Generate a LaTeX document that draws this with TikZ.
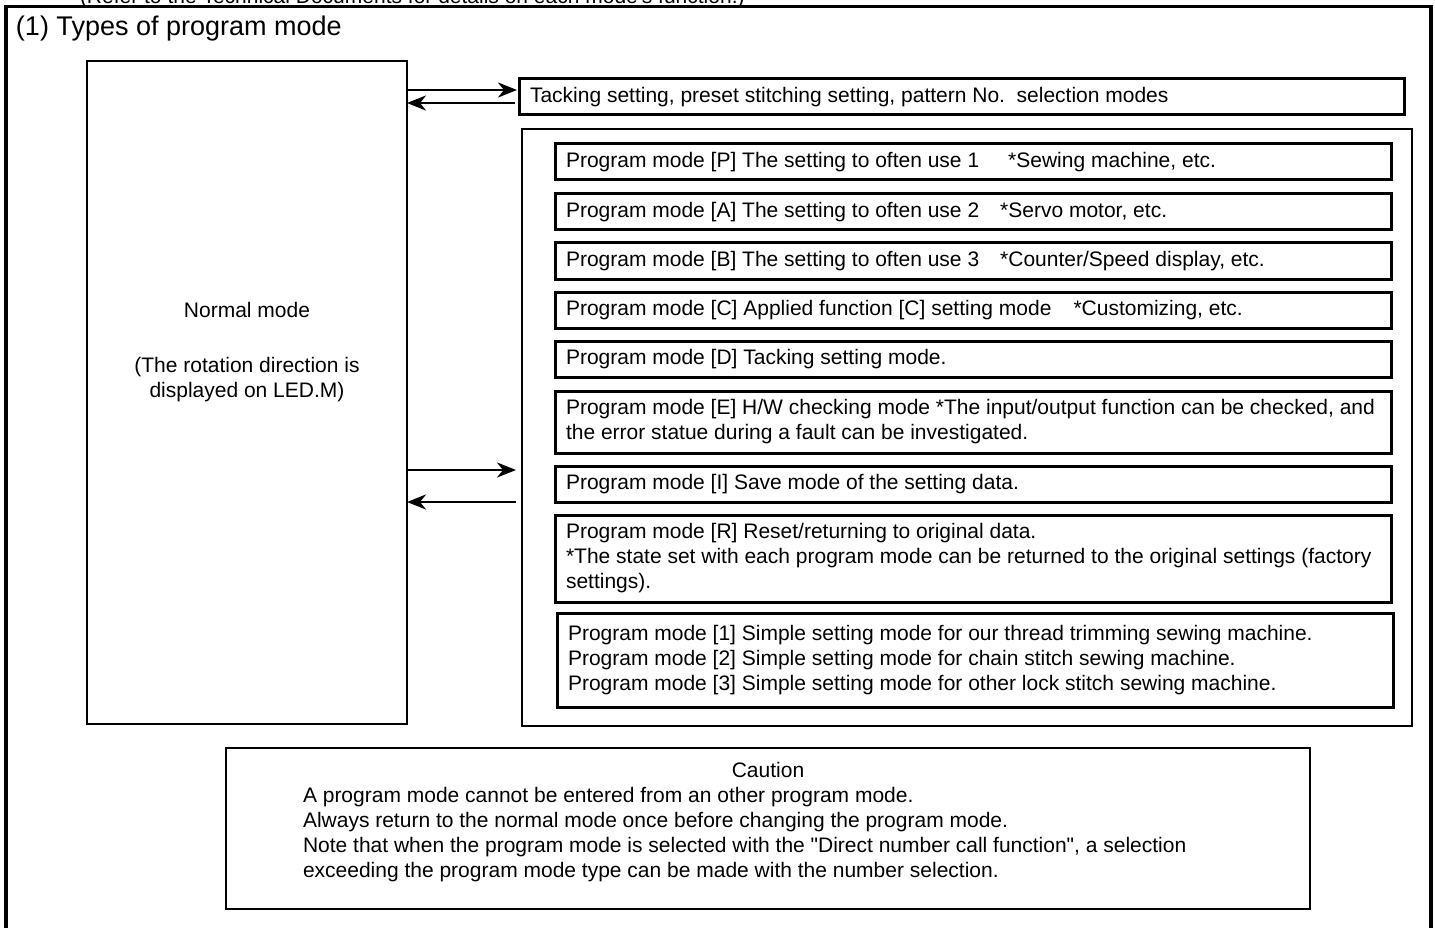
\documentclass[tikz,border=0pt]{standalone}
\usepackage{fontspec}
\setmainfont{Liberation Sans}
\usetikzlibrary{arrows.meta}
\begin{document}
\begin{tikzpicture}[x=1pt,y=-1pt,
  every node/.style={font=\fontsize{21}{25}\selectfont, inner sep=0pt, outer sep=0pt},
  frameline/.style={line width=3.5pt},
  modebox/.style={draw, line width=3pt, anchor=north west, minimum width=836pt, minimum height=36pt},
  modetext/.style={anchor=west, align=left},
  arr/.style={line width=2.6pt, -{Stealth[length=19pt,width=15pt,inset=6pt]}},
]
\useasboundingbox (0,0) rectangle (1435,928);
\clip (0,0) rectangle (1435,928);

% header line and page frame
\node[anchor=base west] (refnote) at (80,4) {(Refer to the Technical Documents for details on each mode\textquotesingle s function.)};
\draw[frameline] (6,940) -- (6,6.5) -- (1431,6.5) -- (1431,940);
\node[anchor=base west, font=\fontsize{27}{31}\selectfont] (title) at (16,36) {(1) Types of program mode};

% normal mode
\node[draw, line width=2.6pt, anchor=north west, minimum width=320pt, minimum height=663pt] (normal) at (87,61) {};
\node (nmtitle) at (247,310) {Normal mode};
\node[align=center] (nmnote) at (247,380) {(The rotation direction is\\displayed on LED.M)};

% tacking / preset / pattern selection
\node[draw, line width=3pt, anchor=north west, minimum width=885pt, minimum height=36pt] (tack) at (519,79) {};
\node[modetext] (tacktext) at ([xshift=11pt]tack.west) {Tacking setting, preset stitching setting, pattern No.\ \ selection modes};

% program modes
\node[draw, line width=2.3pt, anchor=north west, minimum width=890pt, minimum height=597pt] (cont) at (522,129) {};

\node[modebox] (mP) at (555,144) {};
\node[modetext] (tP) at ([xshift=11pt]mP.west) {Program mode [P] The setting to often use 1\hspace{29pt}*Sewing machine, etc.};
\node[modebox] (mA) at (555,194) {};
\node[modetext] (tA) at ([xshift=11pt]mA.west) {Program mode [A] The setting to often use 2\hspace{21pt}*Servo motor, etc.};
\node[modebox] (mB) at (555,243) {};
\node[modetext] (tB) at ([xshift=11pt]mB.west) {Program mode [B] The setting to often use 3\hspace{21pt}*Counter/Speed display, etc.};
\node[modebox] (mC) at (555,292) {};
\node[modetext] (tC) at ([xshift=11pt]mC.west) {Program mode [C] Applied function [C] setting mode\hspace{22pt}*Customizing, etc.};
\node[modebox] (mD) at (555,341) {};
\node[modetext] (tD) at ([xshift=11pt]mD.west) {Program mode [D] Tacking setting mode.};
\node[modebox, minimum height=62pt] (mE) at (555,391) {};
\node[modetext] (tE) at ([xshift=11pt]mE.west) {Program mode [E] H/W checking mode *The input/output function can be checked, and\\{}the error statue during a fault can be investigated.};
\node[modebox] (mI) at (555,466) {};
\node[modetext] (tI) at ([xshift=11pt]mI.west) {Program mode [I] Save mode of the setting data.};
\node[modebox, minimum height=87pt] (mR) at (555,515) {};
\node[modetext] (tR) at ([xshift=11pt]mR.west) {Program mode [R] Reset/returning to original data.\\{}*The state set with each program mode can be returned to the original settings (factory\\{}settings).};
\node[modebox, minimum height=94pt] (mS) at (557,613) {};
\node[modetext] (tS) at ([xshift=11pt]mS.west) {Program mode [1] Simple setting mode for our thread trimming sewing machine.\\{}Program mode [2] Simple setting mode for chain stitch sewing machine.\\{}Program mode [3] Simple setting mode for other lock stitch sewing machine.};

% mode transitions
\draw[arr, shorten >=2pt] (normal.east |- 0,90) -- (tack.west |- 0,90);
\draw[arr, shorten <=4pt] (tack.west |- 0,103) -- (normal.east |- 0,103);
\draw[arr, shorten >=6pt] (normal.east |- 0,470) -- (cont.west |- 0,470);
\draw[arr, shorten <=6pt] (cont.west |- 0,502) -- (normal.east |- 0,502);

% caution
\node[draw, line width=2.3pt, anchor=north west, minimum width=1084pt, minimum height=161pt] (caution) at (226,748) {};
\node (cautiontitle) at (768,770) {Caution};
\node[modetext] (cautiontext) at (303,834.5) {A program mode cannot be entered from an other program mode.\\{}Always return to the normal mode once before changing the program mode.\\{}Note that when the program mode is selected with the \textquotedbl Direct number call function\textquotedbl, a selection\\{}exceeding the program mode type can be made with the number selection.};
\end{tikzpicture}
\end{document}
